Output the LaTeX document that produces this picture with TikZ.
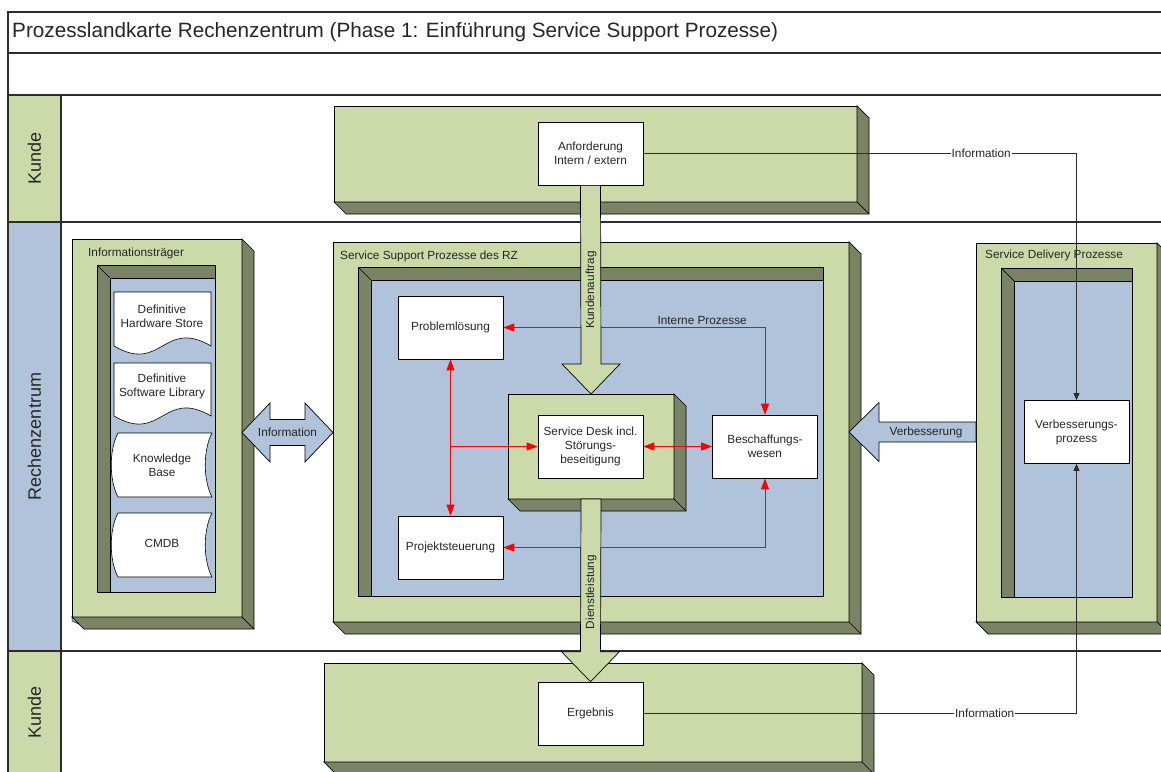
\documentclass[tikz,border=0pt]{standalone}
\usepackage{fontspec}
\setmainfont{Liberation Sans}
\usetikzlibrary{arrows.meta,calc}
\definecolor{pgreen}{RGB}{204,218,170}
\definecolor{pdark}{RGB}{122,131,101}
\definecolor{pblue}{RGB}{176,195,219}
\definecolor{ptext}{RGB}{38,38,38}
\definecolor{pline}{RGB}{45,45,45}
\newcommand\pRaised[5]{%
  \node[face3d, minimum width={#4-#2}, minimum height={#5-#3}, anchor=north west] (#1) at (#2,#3) {};
  \filldraw[shade3d] (#1.north east) -- ++(12,12) -- ($(#1.south east)+(12,12)$) -- ($(#1.south west)+(12,12)$) -- (#1.south west) -- (#1.south east) -- cycle;
  \draw[line width=0.7pt] (#1.south east) -- ++(12,12);
}
\newcommand\pRecess[4]{%
  \filldraw[fill=pblue, draw=black, line width=0.7pt] (#1,#2) rectangle (#3,#4);
  \filldraw[shade3d] (#1,#2) -- (#3,#2) -- (#3,#2+13) -- (#1+13,#2+13) -- (#1+13,#4) -- (#1,#4) -- cycle;
  \draw[line width=0.7pt] (#1,#2) -- (#1+13,#2+13);
}
\begin{document}
\begin{tikzpicture}[x=1pt,y=-1pt,line join=miter,
  txt/.style={font=\fontsize{11.8}{14}\selectfont, text=ptext, align=center},
  face3d/.style={draw=black, line width=0.7pt, fill=pgreen, inner sep=0pt, outer sep=0pt},
  shade3d/.style={fill=pdark, draw=black, line width=0.7pt},
  wbox/.style={draw=black, line width=0.7pt, fill=white, minimum width=105pt, minimum height=63pt, inner sep=0pt, txt},
  frameln/.style={draw=pline, line width=1.1pt},
  docshape/.style={fill=white, draw=black, line width=0.6pt},
  redc/.style={draw=red, line width=0.9pt, {Triangle[length=11pt,width=8pt]}-{Triangle[length=11pt,width=8pt]}},
  infoln/.style={draw=pline, line width=0.8pt},
  blockg/.style={fill=pgreen, draw=black, line width=0.7pt},
  blockb/.style={fill=pblue, draw=black, line width=0.7pt},
  lanelbl/.style={rotate=90, font=\fontsize{18}{20}\selectfont, text=ptext},
  pnl/.style={anchor=west, txt, inner sep=0pt}
]
\useasboundingbox (0,0) rectangle (1161,771);
\clip (0,0) rectangle (1161,771);
\fill[white] (0,0) rectangle (1161,771);
% lanes
\fill[pgreen] (8,95) rectangle (61,222);
\fill[pblue] (8,222) rectangle (61,651);
\fill[pgreen] (8,651) rectangle (61,780);
\draw[frameln] (1175,12) -- (8,12) -- (8,780);
\draw[frameln] (8,53) -- (1175,53);
\draw[frameln] (8,95) -- (1175,95);
\draw[frameln] (8,222) -- (1175,222);
\draw[frameln] (8,651) -- (1175,651);
\draw[frameln] (61,95) -- (61,780);
\node[anchor=base west, inner sep=0pt, font=\fontsize{20.7}{24}\selectfont, text=ptext] (title) at (12,37) {Prozesslandkarte Rechenzentrum (Phase 1: Einführung Service Support Prozesse)};
\node[lanelbl] (lk1) at (34.5,158.5) {Kunde};
\node[lanelbl] (lrz) at (34.5,436.5) {Rechenzentrum};
\node[lanelbl] (lk2) at (34.5,712) {Kunde};
% big boxes
\pRaised{kundeTop}{334}{106}{857}{202}
\pRaised{kundeBot}{324}{663}{862}{762}
\pRaised{itrP}{72}{239}{242}{617}
\filldraw[fill=pblue, draw=black, line width=0.5pt] (72,617) -- (79,624) -- (72,621) -- cycle;
\pRaised{ssP}{333}{242}{849}{622}
\pRaised{sdP}{976}{243}{1157}{622}
\pRecess{97}{265}{215}{592}
\pRecess{358}{267}{823}{596}
\pRecess{1001}{268}{1132}{597}
\node[pnl] (itrL) at (88,253) {Informationsträger};
\node[pnl] (ssL) at (340,256) {Service Support Prozesse des RZ};
\node[pnl] (sdL) at (985,255) {Service Delivery Prozesse};
% documents
\filldraw[docshape] (114,292) -- (211,292) -- (211,346) .. controls (163,318) and (162,374) .. (114,346) -- cycle;
\node[txt] (dhs) at (162,316.5) {Definitive\\Hardware Store};
\filldraw[docshape] (114,363) -- (211,363) -- (211,416) .. controls (163,388) and (162,444) .. (114,416) -- cycle;
\node[txt] (dsl) at (162,386.5) {Definitive\\Software Library};
\filldraw[docshape] (118,433) -- (212,433) .. controls (203,450) and (203,480) .. (212,497) -- (118,497) .. controls (109,480) and (109,450) .. (118,433) -- cycle;
\node[txt] (kb) at (162,465) {Knowledge\\Base};
\filldraw[docshape] (118,513) -- (212,513) .. controls (203,530) and (203,560) .. (212,577) -- (118,577) .. controls (109,560) and (109,530) .. (118,513) -- cycle;
\node[txt] (cmdb) at (162,543) {CMDB};
% service desk 3d
\pRaised{sd3}{508}{394}{674}{499}
% white boxes
\node[wbox] (anf) at (590.5,153.5) {Anforderung\\Intern / extern};
\node[wbox] (erg) at (590.5,713.5) {Ergebnis};
\node[wbox] (prob) at (450.5,327.5) {Problemlösung};
\node[wbox] (proj) at (450.5,547.5) {Projektsteuerung};
\node[wbox] (besch) at (765,446.5) {Beschaffungs-\\wesen};
\node[wbox] (sd) at (590.5,446.5) {Service Desk incl.\\Störungs-\\beseitigung};
\node[wbox] (verb) at (1076.5,432) {Verbesserungs-\\prozess};
% red connectors
\draw[redc] (prob.east) -| (besch.north) node[pos=0.38, above, txt, inner sep=2pt] (ip) {Interne Prozesse};
\draw[redc] (proj.east) -| (besch.south);
\draw[redc] (prob.south) -- (proj.north);
\coordinate (j) at (prob.south |- sd.west);
\draw[draw=red, line width=0.9pt, -{Triangle[length=11pt,width=8pt]}] (j) -- (sd.west);
\draw[redc] (sd.east) -- (besch.west);
% block arrows
\filldraw[blockg] ($(anf.south)+(-10,0)$) -- ($(sd3.north)+(-10,-30)$) -- ($(sd3.north)+(-29,-30)$) -- (sd3.north) -- ($(sd3.north)+(29,-30)$) -- ($(sd3.north)+(10,-30)$) -- ($(anf.south)+(10,0)$) -- cycle;
\node[txt, rotate=90] (ka) at (591,290) {Kundenauftrag};
\filldraw[blockg] ($(sd3.south)+(-10,0)$) -- ($(erg.north)+(-10,-30)$) -- ($(erg.north)+(-29,-30)$) -- (erg.north) -- ($(erg.north)+(29,-30)$) -- ($(erg.north)+(10,-30)$) -- ($(sd3.south)+(10,0)$) -- cycle;
\node[txt, rotate=90] (dl) at (591,592) {Dienstleistung};
\coordinate (ia) at (itrP.east |- 0,432.5);
\coordinate (ib) at (ssP.west |- 0,432.5);
\filldraw[blockb] (ia) -- ++(28,-29.5) -- ++(0,16.5) -- ($(ib)+(-28,-13)$) -- ++(0,-16.5) -- (ib) -- ++(-28,29.5) -- ++(0,-16.5) -- ($(ia)+(28,13)$) -- ++(0,16.5) -- cycle;
\node[txt] (infa) at ($(ia)!0.5!(ib)$) {Information};
\coordinate (va) at (ssP.east |- verb.west);
\coordinate (vb) at (sdP.west |- verb.west);
\filldraw[blockb] (va) -- ++(30,-29.5) -- ++(0,19.5) -- ($(vb)+(0,-10)$) -- ($(vb)+(0,10)$) -- ($(va)+(30,10)$) -- ++(0,19.5) -- cycle;
\node[txt] (vtxt) at (926,432) {Verbesserung};
% information lines
\draw[infoln, -{Triangle[length=7pt,width=6pt]}] (anf.east) -| (verb.north) node[pos=0.39, fill=white, txt, inner sep=1pt] (inf1) {Information};
\draw[infoln, -{Triangle[length=7pt,width=6pt]}] (erg.east) -| (verb.south) node[pos=0.394, fill=white, txt, inner sep=1pt] (inf2) {Information};
\end{tikzpicture}
\end{document}
